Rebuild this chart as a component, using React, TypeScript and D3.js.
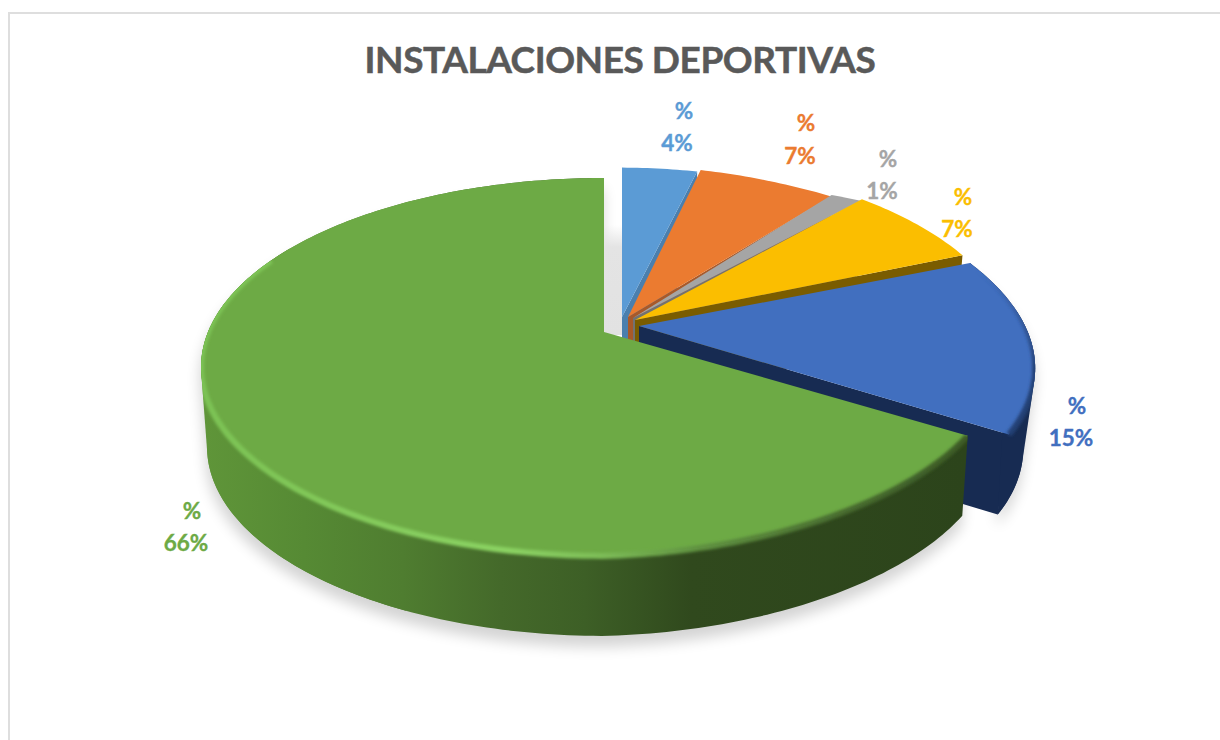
import React from "react";
import * as d3 from "d3";

// Chart content
const chartTitle = "INSTALACIONES DEPORTIVAS";
const facilities = ["A", "B", "C", "D", "E", "F"];
const shares = [4, 7, 1, 7, 15, 66];
const topColors = ["#5B9BD5", "#EB7B30", "#A5A5A5", "#FBBE00", "#416FBF", "#6DAA45"];
const wallColors = ["#4A7FAE", "#A8592A", "#727272", "#7A5C00", "#172B52", "#2C441B"];

// Perspective of the disc: horizontal and vertical radius, foreshortening
const WIDTH = 1220;
const HEIGHT = 740;
const CX = 604;
const CY = 332;
const RX = 396;
const RY = 182.5;
const K = 0.185;
const DEPTH = 80;

// How far each wedge is pulled out, and how its radius changes with that
const offsetX = [18, 24, 29, 31, 35, 0];
const offsetY = [-15, -15, -14, -12, -6, 0];
const scaleRight = [0.9, 1.1125, 1.916, 0.95, 0.975, 0.98];
const scaleTilt = [0, 0.25, 1.32, 0, 0.04, 0];
const scaleDepth = [0.97, 0.98, 1, 1.03, 1, 1];
const depthTaper = [0, 0, 0, 0, 0, 0.053];
const baseScale = [0.98, 0.98, 0.98, 0.98, 0.97, 0.985];

// Anchor points of the two-line value labels
const labelPercentX = [684, 806, 888, 963, 1077, 192];
const labelPercentY = [119, 131, 167, 205, 414, 519];
const labelValueX = [677, 800, 882, 957, 1071, 186];
const labelValueY = [151, 164, 199, 237, 446, 551];

type Pt = [number, number];

const project = (i: number, a: number): Pt => {
  const u = Math.sin(a);
  const v = Math.cos(a);
  const w = 1 + K * v;
  const sx = u > 0 ? scaleRight[i] - scaleTilt[i] * v : 1;
  const sy = scaleDepth[i] * (1 - depthTaper[i] * Math.max(u, 0));
  return [
    CX + offsetX[i] + (RX * sx * u) / w,
    CY + offsetY[i] - (RY * sy * v) / w,
  ];
};

const lowered = (i: number, p: Pt): Pt => {
  const ax = CX + offsetX[i];
  return [ax + (p[0] - ax) * baseScale[i], p[1] + DEPTH];
};

const apex = (i: number): Pt => [CX + offsetX[i], CY + offsetY[i]];

const arcPoints = (i: number, a0: number, a1: number): Pt[] => {
  const n = Math.max(2, Math.ceil(((a1 - a0) * 180) / Math.PI));
  return d3.range(n + 1).map((j) => project(i, a0 + ((a1 - a0) * j) / n));
};

const line = d3.line<Pt>();
const closed = (pts: Pt[]) => (line(pts) as string) + "Z";

const wedges = d3
  .pie<number>()
  .sort(null)
  .value((d) => d)(shares);

const topPath = (i: number) =>
  closed([apex(i), ...arcPoints(i, wedges[i].startAngle, wedges[i].endAngle)]);

const rimPath = (i: number, a0: number, a1: number) => {
  const top = arcPoints(i, a0, a1);
  const bottom = top.map((p) => lowered(i, p)).reverse();
  return closed([...top, ...bottom]);
};

// Swept outline of the side wall over a convex stretch of the rim
const sweptPath = (i: number, a0: number, a1: number) => {
  const top = arcPoints(i, a0, a1);
  const all = [...top, ...top.map((p) => lowered(i, p))];
  return closed(d3.polygonHull(all) as Pt[]);
};

// Cut face at the clockwise end of a wedge
const cutPath = (i: number) => {
  const a = apex(i);
  const e = project(i, wedges[i].endAngle);
  return closed([a, e, lowered(i, e), lowered(i, a)]);
};

const deg = (d: number) => (d * Math.PI) / 180;
const GREEN = 5;
const BLUE = 4;
const greenEnd = wedges[GREEN].endAngle;
const greenStart = wedges[GREEN].startAngle;
const blueStart = wedges[BLUE].startAngle;
const blueEnd = wedges[BLUE].endAngle;

const greenWalls = [
  rimPath(GREEN, greenStart, greenEnd),
  sweptPath(GREEN, deg(205), deg(300)),
];
const blueWalls = [
  rimPath(BLUE, blueStart, blueEnd),
  sweptPath(BLUE, deg(85), blueEnd),
];

const sideStops: [number, string][] = [
  [0, "#5F9539"],
  [0.13, "#568A34"],
  [0.26, "#4F7D30"],
  [0.39, "#44692A"],
  [0.5, "#3D5F26"],
  [0.64, "#30491D"],
  [1, "#2C441B"],
];

const rimStops: [number, string][] = [
  [0, "#7CC254"],
  [0.4, "#8AD262"],
  [0.52, "#7DBD57"],
  [0.65, "#5F9140"],
  [0.85, "#46692D"],
  [1, "#3C5B26"],
];

export default function App() {
  return (
    <svg
      width={WIDTH}
      height={HEIGHT}
      viewBox={`0 0 ${WIDTH} ${HEIGHT}`}
      style={{ position: "absolute", left: 0, top: 0, background: "#fff" }}
      fontFamily="Lato, 'Open Sans', sans-serif"
    >
      <defs>
        <filter id="castShadow" x="-10%" y="-10%" width="120%" height="130%">
          <feGaussianBlur stdDeviation="7" />
        </filter>
        <filter id="soft" x="-5%" y="-5%" width="110%" height="110%">
          <feGaussianBlur stdDeviation="1.5" />
        </filter>
        <linearGradient id="greenSide" gradientUnits="userSpaceOnUse" x1="205" x2="965" y1="0" y2="0">
          {sideStops.map(([o, c]) => (
            <stop key={o} offset={o} stopColor={c} />
          ))}
        </linearGradient>
        <linearGradient id="greenRim" gradientUnits="userSpaceOnUse" x1="200" x2="968" y1="0" y2="0">
          {rimStops.map(([o, c]) => (
            <stop key={o} offset={o} stopColor={c} />
          ))}
        </linearGradient>
        <linearGradient id="blueRim" gradientUnits="userSpaceOnUse" x1="0" x2="0" y1="270" y2="370">
          <stop offset="0" stopColor="#2A4A85" stopOpacity="0" />
          <stop offset="1" stopColor="#234074" stopOpacity="1" />
        </linearGradient>
        <linearGradient id="gapShadow" x1="0" x2="0" y1="0" y2="1">
          <stop offset="0" stopColor="#e4e4e4" stopOpacity="0" />
          <stop offset="0.2" stopColor="#e4e4e4" />
          <stop offset="1" stopColor="#e2e2e2" />
        </linearGradient>
        <clipPath id="greenBody">
          <path d={topPath(GREEN)} />
          {greenWalls.map((d) => (
            <path key={d} d={d} />
          ))}
        </clipPath>
        <clipPath id="blueBody">
          <path d={topPath(BLUE)} />
          {blueWalls.map((d) => (
            <path key={d} d={d} />
          ))}
        </clipPath>
      </defs>

      {/* Chart frame */}
      <path d={`M9 ${HEIGHT}V13H${WIDTH}`} fill="none" stroke="#dedede" strokeWidth={2} />

      <text
        x={620}
        y={73}
        textAnchor="middle"
        fontSize={37}
        fontWeight={700}
        letterSpacing={-0.45}
        fill="#595959"
        stroke="#595959"
        strokeWidth={0.5}
      >
        {chartTitle}
      </text>

      {/* Shadow cast on the ground and in the gap behind the large wedge */}
      <g filter="url(#castShadow)" fill="#000" opacity={0.17} transform="translate(-1 11)">
        {greenWalls.map((d) => (
          <path key={d} d={d} />
        ))}
        {blueWalls.map((d) => (
          <path key={d} d={d} />
        ))}
      </g>
      <rect x={604} y={225} width={20} height={110} fill="url(#gapShadow)" />

      {/* Wedges are painted back to front */}
      {facilities.slice(0, 4).map((name, i) => (
        <g key={name}>
          <path d={cutPath(i)} fill={wallColors[i]} />
          <path d={topPath(i)} fill={topColors[i]} />
        </g>
      ))}

      <path d={cutPath(BLUE)} fill={wallColors[BLUE]} />
      {blueWalls.map((d) => (
        <path key={d} d={d} fill={wallColors[BLUE]} />
      ))}
      <path d={topPath(BLUE)} fill={topColors[BLUE]} />
      <g clipPath="url(#blueBody)">
        <path
          d={line(arcPoints(BLUE, blueStart, blueEnd)) as string}
          fill="none"
          stroke="url(#blueRim)"
          strokeWidth={6}
          filter="url(#soft)"
        />
      </g>

      {greenWalls.map((d) => (
        <path key={d} d={d} fill="url(#greenSide)" />
      ))}
      <path d={topPath(GREEN)} fill={topColors[GREEN]} />
      <g clipPath="url(#greenBody)">
        <path
          d={line(arcPoints(GREEN, greenStart, deg(295))) as string}
          fill="none"
          stroke="url(#greenRim)"
          strokeWidth={6}
          filter="url(#soft)"
        />
      </g>

      {/* Value labels */}
      {shares.map((share, i) => (
        <g
          key={facilities[i]}
          fontSize={22.5}
          fontWeight={700}
          fill={topColors[i]}
          stroke={topColors[i]}
          strokeWidth={0.35}
          textAnchor="middle"
        >
          <text x={labelPercentX[i]} y={labelPercentY[i]}>%</text>
          <text x={labelValueX[i]} y={labelValueY[i]}>{`${share}%`}</text>
        </g>
      ))}
    </svg>
  );
}
